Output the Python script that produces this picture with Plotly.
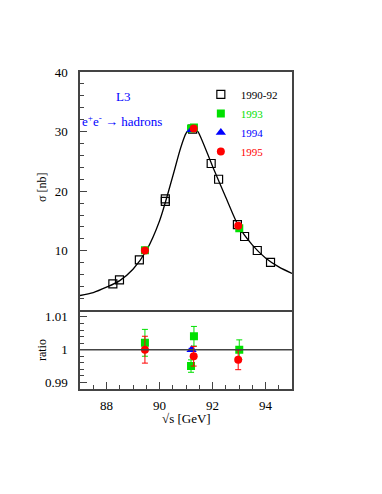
import plotly.graph_objects as go

# ---------------- data ----------------
# fitted line shape
fit_E = [87.0, 87.5, 88.0, 88.5, 89.0, 89.5, 90.0, 90.5, 90.8, 91.0, 91.15, 91.3, 91.45, 91.6, 92.0, 92.5, 93.0, 93.5, 94.0, 94.5, 95.0]
fit_sigma = [2.5, 3.0, 3.9, 5.0, 6.9, 10.0, 15.0, 22.5, 27.3, 29.7, 30.5, 30.6, 30.0, 28.6, 24.2, 19.0, 14.0, 11.0, 8.8, 7.3, 6.2]

# 1990-92
E_9092 = [88.24, 88.49, 89.24, 90.22, 90.22, 91.25, 91.95, 92.23, 92.94, 93.21, 93.69, 94.19]
sig_9092 = [4.46, 5.13, 8.49, 18.3, 18.7, 30.4, 24.65, 22.0, 14.4, 12.4, 10.05, 8.04]

# 1993
E_93 = [89.45, 91.19, 91.30, 93.01]
sig_93 = [10.1, 30.5, 30.7, 13.8]
ratio_93 = [1.0021, 0.9950, 1.0041, 1.0000]
err_93 = [0.0041, 0.0019, 0.0030, 0.0030]

# 1994
E_94 = [91.21]
sig_94 = [30.3]
ratio_94 = [1.0000]
err_94 = [0.0004]

# 1995
E_95 = [89.45, 91.29, 92.97]
sig_95 = [10.05, 30.5, 14.2]
ratio_95 = [1.0000, 0.9980, 0.9969]
err_95 = [0.0041, 0.0030, 0.0030]

sigma_ticks = [10, 20, 30, 40]
ratio_ticks = [0.99, 1.0, 1.01]
ratio_tick_text = ["0.99", "1", "1.01"]
E_ticks = [88, 90, 92, 94]

BLACK = "#000000"
GREEN = "#00e000"
BLUE = "#0000ff"
RED = "#ff0000"
FRAME = "#444444"
FONT = "Liberation Serif"

fig = go.Figure()

# ---------- top panel ----------
fig.add_trace(go.Scatter(x=E_9092, y=sig_9092, mode="markers", xaxis="x2", yaxis="y2",
                         name="1990-92",
                         marker=dict(symbol="square-open", size=8, color=BLACK, line=dict(width=1.2))))
fig.add_trace(go.Scatter(x=fit_E, y=fit_sigma, mode="lines", xaxis="x2", yaxis="y2",
                         line=dict(color=BLACK, width=1.3, shape="spline", smoothing=0.8),
                         showlegend=False, hoverinfo="skip"))
fig.add_trace(go.Scatter(x=E_93, y=sig_93, mode="markers", xaxis="x2", yaxis="y2",
                         name="<span style='color:#00e000'>1993</span>",
                         marker=dict(symbol="square", size=8, color=GREEN)))
fig.add_trace(go.Scatter(x=E_94, y=sig_94, mode="markers", xaxis="x2", yaxis="y2",
                         name="<span style='color:#0000ff'>1994</span>",
                         marker=dict(symbol="triangle-up", size=9, color=BLUE)))
fig.add_trace(go.Scatter(x=E_95, y=sig_95, mode="markers", xaxis="x2", yaxis="y2",
                         name="<span style='color:#ff0000'>1995</span>",
                         marker=dict(symbol="circle", size=8, color=RED)))

# ---------- ratio panel ----------
fig.add_trace(go.Scatter(x=E_93, y=ratio_93, mode="markers", xaxis="x", yaxis="y",
                         error_y=dict(type="data", array=err_93, color=GREEN, thickness=1, width=3),
                         marker=dict(symbol="square", size=8, color=GREEN), showlegend=False))
fig.add_trace(go.Scatter(x=E_94, y=ratio_94, mode="markers", xaxis="x", yaxis="y",
                         error_y=dict(type="data", array=err_94, color=BLUE, thickness=1, width=3),
                         marker=dict(symbol="triangle-up", size=9, color=BLUE), showlegend=False))
fig.add_trace(go.Scatter(x=E_95, y=ratio_95, mode="markers", xaxis="x", yaxis="y",
                         error_y=dict(type="data", array=err_95, color=RED, thickness=1, width=3),
                         marker=dict(symbol="circle", size=8, color=RED), showlegend=False))

base = dict(showline=True, linecolor=FRAME, linewidth=1.5,
            showgrid=False, zeroline=False,
            tickfont=dict(family=FONT, size=13, color=BLACK))

fig.update_layout(
    width=366, height=478,
    margin=dict(l=72, r=82, t=64, b=97),
    paper_bgcolor="white", plot_bgcolor="white",
    font=dict(family=FONT, size=12, color=BLACK),
    xaxis=dict(domain=[0, 1], range=[87, 95], anchor="y", mirror=False,
               tickvals=E_ticks, ticks="inside", ticklen=7, tickwidth=1, tickcolor=FRAME,
               ticklabelstandoff=4,
               minor=dict(dtick=0.5, ticks="inside", ticklen=4, tickcolor=FRAME), **base),
    yaxis=dict(domain=[0, 0.248], range=[0.988, 1.012], anchor="x", mirror=True,
               tickvals=ratio_ticks, ticktext=ratio_tick_text,
               ticks="inside", ticklen=7, tickwidth=1, tickcolor=FRAME, ticklabelstandoff=8,
               minor=dict(dtick=0.002, ticks="inside", ticklen=4, tickcolor=FRAME), **base),
    xaxis2=dict(domain=[0, 1], range=[87, 95], anchor="y2", matches="x", mirror=True,
                showticklabels=False, ticks="", **base),
    yaxis2=dict(domain=[0.248, 1], range=[0, 40], anchor="x2", mirror=True,
                tickvals=sigma_ticks, ticks="inside", ticklen=7, tickwidth=1, tickcolor=FRAME,
                ticklabelstandoff=8,
                minor=dict(dtick=2, ticks="inside", ticklen=4, tickcolor=FRAME), **base),
    legend=dict(x=0.57, y=0.975, xanchor="left", yanchor="top",
                bgcolor="rgba(0,0,0,0)", font=dict(family=FONT, size=11, color=BLACK),
                tracegroupgap=0, itemwidth=30),
    showlegend=True,
)

# ratio = 1 reference line
fig.add_shape(type="line", xref="x domain", yref="y", x0=0, x1=1, y0=1, y1=1,
              line=dict(color=FRAME, width=1.5))

fig.add_annotation(text="L3", xref="paper", yref="paper", x=0.201, y=0.922,
                   xanchor="center", yanchor="middle",
                   showarrow=False, font=dict(family=FONT, size=13, color=BLUE))
fig.add_annotation(text="e<sup>+</sup>e<sup>-</sup> \u2192 hadrons", xref="paper", yref="paper",
                   x=0.0, y=0.846, xanchor="left", yanchor="middle", showarrow=False,
                   font=dict(family=FONT, size=13, color=BLUE))
fig.add_annotation(text="\u03c3 [nb]", xref="paper", yref="paper", x=-0.179, y=0.634,
                   xanchor="center", yanchor="middle",
                   textangle=-90, showarrow=False, font=dict(family=FONT, size=12, color=BLACK))
fig.add_annotation(text="ratio", xref="paper", yref="paper", x=-0.179, y=0.123,
                   xanchor="center", yanchor="middle",
                   textangle=-90, showarrow=False, font=dict(family=FONT, size=12, color=BLACK))
fig.add_annotation(text="\u221as [GeV]", xref="paper", yref="paper", x=0.5, y=-0.0946,
                   xanchor="center", yanchor="middle",
                   showarrow=False, font=dict(family=FONT, size=13, color=BLACK))

fig.write_html("out.html")
